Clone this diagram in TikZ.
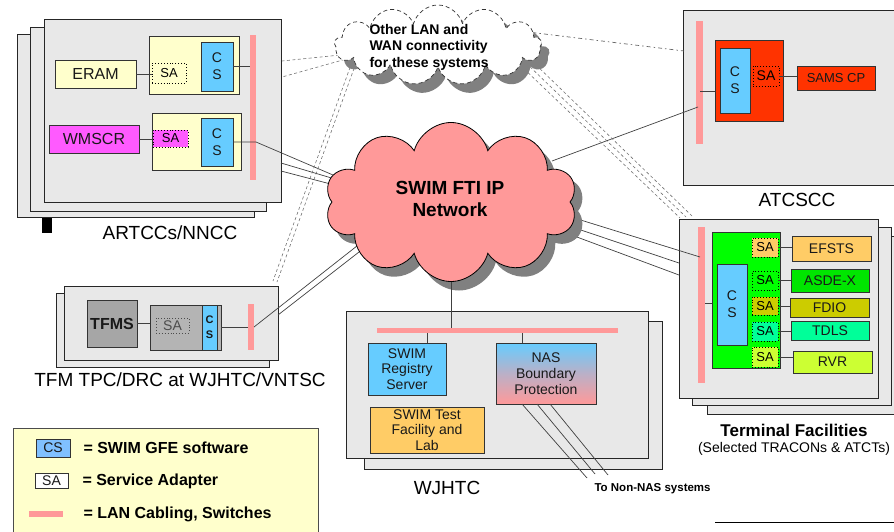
\documentclass[tikz,border=0pt]{standalone}
\usepackage{fontspec}
\setmainfont{Liberation Sans}
\usetikzlibrary{shapes.symbols}
\definecolor{csblue}{RGB}{102,204,255}
\definecolor{cream}{RGB}{255,255,204}
\definecolor{lanpink}{RGB}{255,153,153}
\definecolor{facgray}{RGB}{232,232,232}
\definecolor{wmag}{RGB}{255,90,255}
\definecolor{atcred}{RGB}{255,51,0}
\definecolor{tfgray}{RGB}{166,166,166}
\definecolor{tfgraytwo}{RGB}{180,180,180}
\definecolor{torange}{RGB}{255,204,102}
\definecolor{tgreen}{RGB}{0,255,0}
\definecolor{asdegreen}{RGB}{0,230,0}
\definecolor{fdiocol}{RGB}{204,204,0}
\definecolor{tdlscol}{RGB}{0,255,153}
\definecolor{rvrcol}{RGB}{204,255,51}
\definecolor{legblue}{RGB}{128,192,255}
\definecolor{shadowgray}{RGB}{128,128,128}
\newcommand\fs[2]{\fontsize{#1}{#2}\selectfont}
\newcommand\mybox[7]{\node[#6, anchor=north west, inner sep=0pt, outer sep=0pt,
  minimum width={(#4-#2)*1pt}, minimum height={(#5-#3)*1pt}] (#1) at (#2,#3) {#7};}
\begin{document}
\begin{tikzpicture}[x=1pt,y=-1pt,
  fac/.style={draw=black!85, fill=facgray, line width=0.9pt},
  bx/.style={draw=black!80, line width=0.8pt, text=black!90},
  sabox/.style={draw=black, dotted, line width=0.9pt, font=\fs{13}{15}},
  lan/.style={fill=lanpink, draw=none},
  link/.style={draw=black!75, line width=0.7pt},
  dlink/.style={draw=black!55, line width=0.6pt, dash pattern=on 3pt off 2.5pt},
  lbl/.style={font=\fs{19}{22}},
  cstext/.style={align=center, font=\fs{14}{17}},
  svc/.style={bx, font=\fs{14}{16}},
  cloudshape/.style={cloud, cloud puffs=11, cloud ignores aspect, inner sep=0pt},
]
\useasboundingbox (0,0) rectangle (894,532);

% ---------------- ARTCCs/NNCC ----------------
\mybox{abthree}{17}{34}{254}{217}{fac}{}
\mybox{abtwo}{30}{27}{266}{211}{fac}{}
\mybox{abone}{44}{19}{281}{202}{fac}{}
\mybox{blk}{42}{218}{52}{233}{fill=black}{}
\mybox{eram}{55}{60}{136}{88}{bx, fill=cream, font=\fs{16}{18}}{ERAM}
\mybox{hone}{149}{36}{239}{94}{bx, fill=cream}{}
\mybox{saone}{152}{63}{186}{83}{sabox, fill=cream}{SA}
\mybox{csone}{201}{42}{233}{91}{bx, fill=csblue, cstext}{C\\S}
\mybox{barone}{250}{35}{256}{180}{lan}{}
\mybox{htwo}{152}{113}{241}{170}{bx, fill=cream}{}
\mybox{wmscr}{49}{125}{139}{153}{bx, fill=wmag, font=\fs{16}{18}}{WMSCR}
\mybox{satwo}{153}{130}{188}{147}{sabox, fill=wmag}{SA}
\mybox{cstwo}{201}{118}{233}{166}{bx, fill=csblue, cstext}{C\\S}
\draw[link] (eram.east) -- (eram.east -| saone.west);
\draw[link] (csone.east) -- (csone.east -| barone.west);
\draw[link] (wmscr.east) -- (wmscr.east -| satwo.west);
\node[lbl] (artlbl) at (170,233) {ARTCCs/NNCC};

% ---------------- ATCSCC ----------------
\mybox{atc}{683}{10}{905}{185}{fac}{}
\mybox{bartwo}{696}{21}{703}{144}{lan}{}
\mybox{redb}{715}{40}{783}{121}{bx, fill=atcred}{}
\mybox{csthree}{720}{48}{750}{113}{bx, fill=csblue, cstext}{C\\S}
\mybox{sathree}{753}{66}{779}{86}{sabox, fill=atcred, font=\fs{14}{16}}{SA}
\mybox{sams}{797}{66}{875}{90}{bx, fill=atcred, font=\fs{13}{15}}{SAMS CP}
\draw[link] (sathree.east) -- (sathree.east -| sams.west);
\coordinate (atcj) at (700,91);
\draw[link] (atcj) -- (atcj -| redb.west);
\node[lbl] (atclbl) at (797,200) {ATCSCC};

% ---------------- TFM ----------------
\mybox{tbtwo}{56}{293}{269}{367}{fac}{}
\mybox{tbone}{64}{286}{278}{360}{fac}{}
\mybox{tfms}{87}{300}{137}{347}{bx, fill=tfgray, font=\bfseries\fs{16}{18}}{TFMS}
\mybox{tsa}{150}{305}{221}{350}{bx, fill=tfgraytwo}{}
\mybox{safour}{156}{318}{189}{333}{sabox, fill=tfgraytwo, draw=black!70, text=black!70, font=\fs{14}{16}}{SA}
\mybox{csfour}{202}{305}{217}{350}{bx, fill=csblue, align=center, font=\bfseries\fs{11}{15}}{C\\S}
\mybox{barthree}{248}{304}{254}{350}{lan}{}
\draw[link] (tfms.east) -- (tfms.east -| tsa.west);
\draw[link] (tsa.east) -- (tsa.east -| barthree.west);
\node[lbl] (tfmlbl) at (180,380) {TFM TPC/DRC at WJHTC/VNTSC};

% ---------------- WJHTC ----------------
\mybox{wbtwo}{364}{321}{662}{469}{fac}{}
\mybox{wbone}{346}{311}{648}{458}{fac}{}
\mybox{barfour}{377}{328}{618}{333}{lan}{}
\mybox{reg}{368}{343}{446}{395}{bx, fill=csblue, align=center, font=\fs{14}{15.7}}{SWIM\\Registry\\Server}
\mybox{nas}{496}{343}{596}{404}{bx, top color=csblue, bottom color=lanpink, middle color=csblue!45!lanpink, align=center, font=\fs{14}{15.7}}{NAS\\Boundary\\Protection}
\mybox{test}{370}{407}{484}{453}{bx, fill=torange, align=center, font=\fs{14}{15.2}}{SWIM Test\\Facility and\\Lab}
\coordinate (rj) at (427,333);
\draw[link] (rj) -- (rj |- reg.north);
\coordinate (nj) at (522,333);
\draw[link] (nj) -- (nj |- nas.north);
\node[lbl] (wjlbl) at (447,488) {WJHTC};
\coordinate (nna) at (522,404); \coordinate (nnae) at (587,478);
\coordinate (nnb) at (537,404); \coordinate (nnbe) at (595,474);
\coordinate (nnc) at (550,404); \coordinate (nnce) at (608,475);
\draw[link] (nna) -- (nnae);
\draw[link] (nnb) -- (nnbe);
\draw[link] (nnc) -- (nnce);
\node[anchor=west, font=\bfseries\fs{11.5}{13}] (nntxt) at (591,489) {To Non-NAS systems};

% ---------------- Terminal Facilities ----------------
\mybox{tfthree}{707}{236}{910}{414}{fac}{}
\mybox{tftwo}{692}{227}{891}{405}{fac}{}
\mybox{tfone}{679}{219}{878}{398}{fac}{}
\mybox{barfive}{698}{227}{705}{383}{lan}{}
\mybox{grn}{712}{232}{780}{368}{bx, fill=tgreen}{}
\mybox{csfive}{717}{264}{747}{345}{bx, fill=csblue, cstext}{C\\S}
\coordinate (gj) at (705,303);
\draw[link] (gj) -- (gj -| grn.west);
\mybox{saa}{752}{238}{778}{257}{sabox, fill=torange}{SA}
\mybox{sab}{752}{271}{778}{290}{sabox, fill=tgreen}{SA}
\mybox{sac}{752}{297}{778}{315}{sabox, fill=fdiocol}{SA}
\mybox{sad}{752}{322}{778}{341}{sabox, fill=tdlscol}{SA}
\mybox{sae}{752}{347}{778}{367}{sabox, fill=rvrcol}{SA}
\mybox{efsts}{792}{236}{871}{261}{svc, fill=torange}{EFSTS}
\mybox{asdex}{791}{269}{869}{292}{svc, fill=asdegreen}{ASDE-X}
\mybox{fdio}{790}{298}{869}{317}{svc, fill=fdiocol}{FDIO}
\mybox{tdls}{791}{321}{869}{340}{svc, fill=tdlscol}{TDLS}
\mybox{rvr}{793}{351}{872}{373}{svc, fill=rvrcol}{RVR}
\draw[link] (saa.east) -- (saa.east -| efsts.west);
\draw[link] (sab.east) -- (sab.east -| asdex.west);
\draw[link] (sac.east) -- (sac.east -| fdio.west);
\draw[link] (sad.east) -- (sad.east -| tdls.west);
\draw[link] (sae.east) -- (sae.east -| rvr.west);
\node[font=\bfseries\fs{17}{20}] (tflbl) at (794,430) {Terminal Facilities};
\node[font=\fs{14}{16}] (tfsub) at (794,449) {(Selected TRACONs \& ATCTs)};

% ---------------- solid links to SWIM cloud (drawn under the cloud) ----------------
\coordinate (swa) at (347,181);
\coordinate (swb) at (345,182); \coordinate (swbs) at (281,163);
\coordinate (swc) at (342,187); \coordinate (swcs) at (281,171);
\draw[link] (cstwo.east) -- (cstwo.east -| barone.east) -- (swa);
\draw[link] (swbs) -- (swb);
\draw[link] (swcs) -- (swc);
\coordinate (swd) at (362,242);
\coordinate (swe) at (368,245); \coordinate (swes) at (278,315);
\draw[link] (barthree.east) -- (swd);
\draw[link] (swes) -- (swe);
\coordinate (swf) at (552,161); \coordinate (swfe) at (698,107);
\draw[link] (swf) -- (swfe);
\coordinate (swg) at (558,213); \coordinate (swge) at (700,257);
\coordinate (swh) at (560,223); \coordinate (swhe) at (679,263);
\coordinate (swi) at (558,230); \coordinate (swie) at (679,275);
\draw[link] (swg) -- (swge);
\draw[link] (swh) -- (swhe);
\draw[link] (swi) -- (swie);

% ---------------- dashed links to small cloud ----------------
\coordinate (oa) at (350,54); \coordinate (oae) at (282,61);
\coordinate (ob) at (350,58); \coordinate (obe) at (282,77);
\draw[dlink] (oa) -- (oae);
\draw[dlink] (ob) -- (obe);
\coordinate (oc) at (352,62); \coordinate (oce) at (273,281);
\coordinate (od) at (356,63); \coordinate (ode) at (277,282);
\draw[dlink] (oc) -- (oce);
\draw[dlink] (od) -- (ode);
\coordinate (oe) at (528,32); \coordinate (oee) at (684,51);
\draw[draw=black!60, line width=0.7pt, dash pattern=on 1.5pt off 3pt on 4pt off 3pt] (oe) -- (oee);
\coordinate (of) at (520,65); \coordinate (ofe) at (680,218);
\coordinate (og) at (526,63); \coordinate (oge) at (686,217);
\coordinate (oh) at (532,61); \coordinate (ohe) at (692,216);
\draw[dlink] (of) -- (ofe);
\draw[dlink] (og) -- (oge);
\draw[dlink] (oh) -- (ohe);

% ---------------- small cloud ----------------
\node[cloudshape, cloud puffs=13, minimum width=207pt, minimum height=80pt,
  fill=shadowgray, draw=none] (ocsh) at (446,54) {};
\node[cloudshape, cloud puffs=13, minimum width=207pt, minimum height=80pt,
  fill=white, draw=black!80, line width=0.7pt, dash pattern=on 4pt off 3pt] (ocl) at (438,45) {};
\node[anchor=west, align=left, font=\bfseries\fs{14}{16.5}] (octxt) at (366,47)
  {Other LAN and\\WAN connectivity\\for these systems};

% ---------------- SWIM cloud ----------------
\node[cloudshape, cloud puffs=10, minimum width=252pt, minimum height=159pt,
  fill=shadowgray, draw=none] (swsh) at (459,211) {};
\node[cloudshape, cloud puffs=10, minimum width=252pt, minimum height=159pt,
  fill=lanpink, draw=black, line width=0.8pt] (swim) at (451,202) {};
\node[align=center, font=\bfseries\fs{19}{22}] (swtxt) at (450,199) {SWIM FTI IP\\Network};
\draw[link] (swim.south) -- (swim.south |- barfour.north);

% ---------------- legend ----------------
\mybox{leg}{13}{428}{318}{545}{draw=black!70, fill=cream, line width=0.8pt}{}
\mybox{lcs}{36}{439}{70}{457}{bx, fill=legblue, font=\fs{14}{16}}{CS}
\mybox{lsa}{35}{473}{68}{488}{bx, fill=white, font=\fs{14}{16}}{SA}
\mybox{llan}{29}{511}{63}{517}{lan}{}
\node[anchor=west, font=\bfseries\fs{16}{18}] (lcstxt) at (80,448) {= SWIM GFE software};
\node[anchor=west, font=\bfseries\fs{16}{18}] (lsatxt) at (79,481) {= Service Adapter};
\node[anchor=west, font=\bfseries\fs{16}{18}] (llantxt) at (80,514) {= LAN Cabling, Switches};

% ---------------- stray rule bottom right ----------------
\coordinate (bra) at (715,522); \coordinate (brb) at (894,522);
\draw[black, line width=1pt] (bra) -- (brb);
\end{tikzpicture}
\end{document}
